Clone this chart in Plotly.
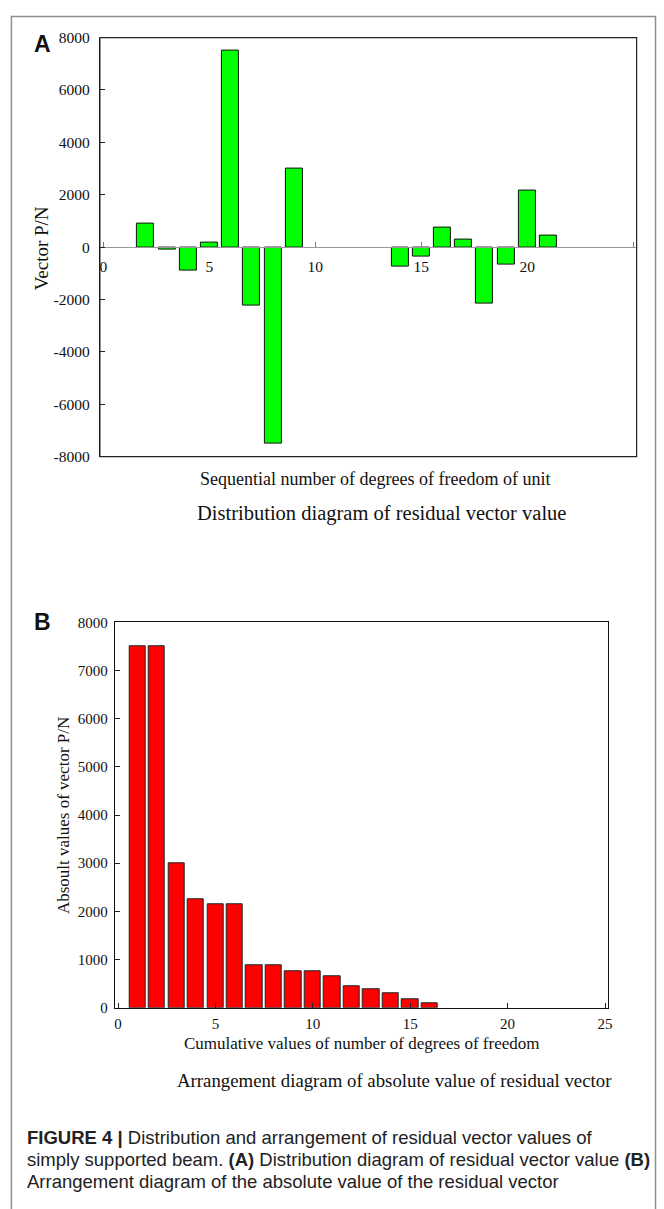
import plotly.graph_objects as go

# ---------------- data ----------------
# Panel A: residual vector value per degree-of-freedom number
a_dof = [2, 3, 4, 5, 6, 7, 8, 9, 14, 15, 16, 17, 18, 19, 20, 21]
a_values = [880, -90, -880, 180, 7500, -2250, -7500, 3000,
            -750, -380, 750, 300, -2150, -650, 2150, 440]

# Panel B: sorted absolute values
b_rank = list(range(1, 17))
b_values = [7500, 7500, 3000, 2250, 2150, 2150, 880, 880,
            750, 750, 650, 440, 380, 300, 180, 90]

a_yticks = [8000, 6000, 4000, 2000, 0, -2000, -4000, -6000, -8000]
a_yticktext = ["8000", "6000", "4000", "2000", "0", "-2000", "-4000", "-6000", "-8000"]
a_xticks = [0, 5, 10, 15, 20, 25]
a_xticktext = ["0", "5", "10", "15", "20", ""]
b_yticks = [0, 1000, 2000, 3000, 4000, 5000, 6000, 7000, 8000]
b_xticks = [0, 5, 10, 15, 20, 25]

W, H = 664, 1209


def px(x):
    return x / W


def py(y):
    return 1 - y / H


SERIF = "Liberation Serif, Times New Roman, serif"
SANS = "Liberation Sans, Arial, sans-serif"

fig = go.Figure()

fig.add_trace(go.Bar(
    x=a_dof, y=a_values, width=0.8,
    marker=dict(color="#00FF00", line=dict(color="#111111", width=1)),
    xaxis="x", yaxis="y", showlegend=False,
))
fig.add_trace(go.Bar(
    x=b_rank, y=b_values, width=0.84,
    marker=dict(color="#FF0000", line=dict(color="#1a2a2a", width=1)),
    xaxis="x2", yaxis="y2", showlegend=False,
))

a_dom_y = [py(454), py(29)]
b_dom_y = [py(1013), py(622)]

fig.update_layout(
    width=W, height=H,
    margin=dict(l=0, r=0, t=0, b=0),
    paper_bgcolor="white", plot_bgcolor="white",
    bargap=0,
    font=dict(family=SERIF, color="#111111"),
    xaxis=dict(
        domain=[px(100.5), px(640.5)], range=[-0.17, 25.17],
        anchor="free", position=(a_dom_y[0] + a_dom_y[1]) / 2,
        tickvals=a_xticks, ticktext=a_xticktext,
        ticks="inside", ticklen=5, tickcolor="#777777",
        showline=True, linecolor="#999999", linewidth=1,
        showgrid=False, zeroline=False,
        tickfont=dict(family=SERIF, size=15.5, color="#111111"),
        ticklabelstandoff=5,
    ),
    yaxis=dict(
        domain=a_dom_y, range=[-8000, 8000],
        anchor="x", tickvals=a_yticks, ticktext=a_yticktext,
        ticks="inside", ticklen=5, tickcolor="#222222",
        showline=True, linecolor="#111111", linewidth=1,
        showgrid=False, zeroline=False,
        tickfont=dict(family=SERIF, size=15.5, color="#111111"),
        ticklabelstandoff=6,
    ),
    xaxis2=dict(
        domain=[px(115.4), px(612)], range=[-0.17, 25.17],
        anchor="y2", tickvals=b_xticks,
        ticks="inside", ticklen=5, tickcolor="#222222",
        showline=True, linecolor="#111111", linewidth=1, mirror=True,
        showgrid=False, zeroline=False,
        tickfont=dict(family=SERIF, size=15, color="#111111"),
        ticklabelstandoff=2,
    ),
    yaxis2=dict(
        domain=b_dom_y, range=[0, 8000],
        anchor="x2", tickvals=b_yticks,
        ticks="inside", ticklen=5, tickcolor="#222222",
        showline=True, linecolor="#111111", linewidth=1, mirror=True,
        showgrid=False, zeroline=False,
        tickfont=dict(family=SERIF, size=15, color="#111111"),
        ticklabelstandoff=3,
    ),
)

shapes = [
    # outer light frame (open at the bottom edge of the picture)
    dict(type="rect", xref="paper", yref="paper",
         x0=px(11.5), x1=px(659.5), y0=py(1240), y1=py(7.5),
         line=dict(color="#8f8f8f", width=1.5), fillcolor="rgba(0,0,0,0)",
         layer="above"),
    # panel A box
    dict(type="rect", xref="x domain", yref="y domain",
         x0=0, x1=1, y0=0, y1=1,
         line=dict(color="#222222", width=1.2), fillcolor="rgba(0,0,0,0)"),
]


def label(text, x, y, size, family=SERIF, angle=0, xanchor="center", color="#111111"):
    return dict(text=text, x=px(x), y=py(y), xref="paper", yref="paper",
                xanchor=xanchor, yanchor="middle", textangle=angle,
                showarrow=False, font=dict(family=family, size=size, color=color))


annotations = [
    label("<b>A</b>", 43, 35, 23, family=SANS),
    label("<b>B</b>", 42.5, 622, 23, family=SANS),
    label("Vector P/N", 42, 243, 19, angle=-90),
    label("Sequential number of degrees of freedom of unit", 377, 477, 18),
    label("Distribution diagram of residual vector value", 384, 512, 20.5),
    label("Absoult values of vector P/N", 64, 818, 17, angle=-90),
    label("Cumulative values of number of degrees of freedom", 364, 1049, 17),
    label("Arrangement diagram of absolute value of residual vector", 397, 1087, 18.8),
    label("<b>FIGURE 4 |</b> Distribution and arrangement of residual vector values of",
          25, 1145, 18.5, family=SANS, xanchor="left", color="#222222"),
    label("simply supported beam. <b>(A)</b> Distribution diagram of residual vector value <b>(B)</b>",
          25, 1167, 18.5, family=SANS, xanchor="left", color="#222222"),
    label("Arrangement diagram of the absolute value of the residual vector",
          25, 1189, 18.5, family=SANS, xanchor="left", color="#222222"),
]

fig.update_layout(shapes=shapes, annotations=annotations)

fig.write_html("out.html", config={"displayModeBar": False},
               post_script="document.body.style.margin='0px';")
